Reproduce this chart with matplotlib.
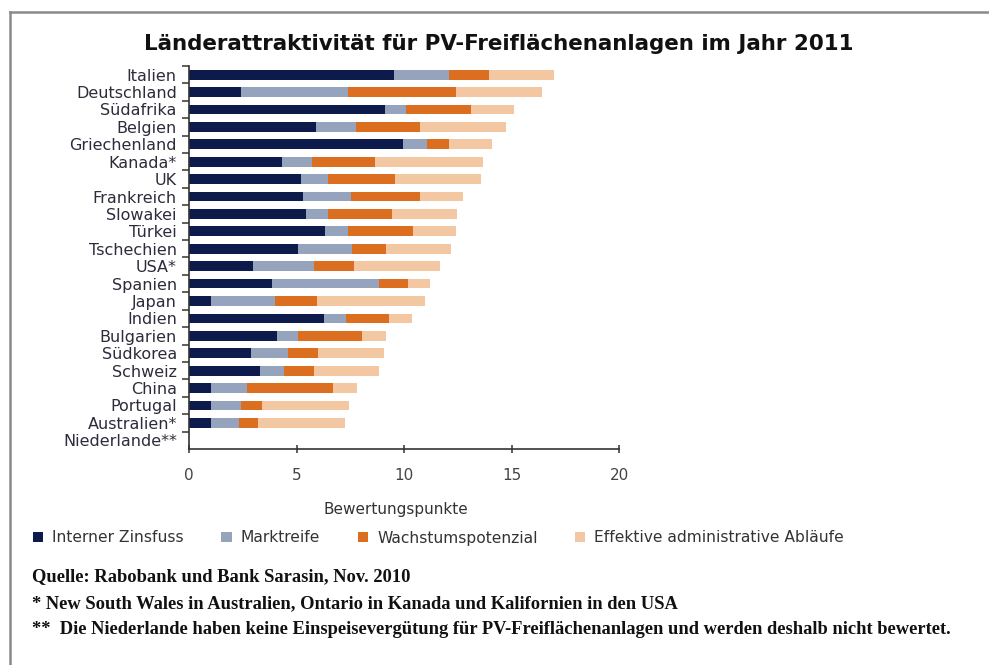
import numpy as np
import matplotlib.pyplot as plt
from matplotlib.lines import Line2D

# Daten (von oben nach unten, wie im Original)
laender = ["Italien", "Deutschland", "Südafrika", "Belgien", "Griechenland",
           "Kanada*", "UK", "Frankreich", "Slowakei", "Türkei", "Tschechien",
           "USA*", "Spanien", "Japan", "Indien", "Bulgarien", "Südkorea",
           "Schweiz", "China", "Portugal", "Australien*", "Niederlande**"]

zinsfuss = [9.5, 2.4, 9.1, 5.9, 9.95, 4.3, 5.2, 5.3, 5.45, 6.3, 5.05,
            2.95, 3.85, 1.0, 6.25, 4.1, 2.85, 3.3, 1.0, 1.0, 1.0, 0]
marktreife = [2.6, 5.0, 1.0, 1.85, 1.1, 1.4, 1.25, 2.2, 1.0, 1.1, 2.5,
              2.85, 4.95, 3.0, 1.05, 0.95, 1.75, 1.1, 1.7, 1.4, 1.3, 0]
wachstum = [1.85, 5.0, 3.0, 3.0, 1.05, 2.95, 3.1, 3.25, 3.0, 3.0, 1.6,
            1.85, 1.35, 1.95, 2.0, 3.0, 1.4, 1.4, 4.0, 1.0, 0.9, 0]
ablaeufe = [3.0, 4.0, 2.0, 4.0, 2.0, 5.0, 4.0, 2.0, 3.0, 2.0, 3.0,
            4.0, 1.05, 5.0, 1.05, 1.1, 3.05, 3.0, 1.1, 4.05, 4.05, 0]

serien = ["Interner Zinsfuss", "Marktreife", "Wachstumspotenzial",
          "Effektive administrative Abläufe"]
farben = ["#0d1b4c", "#96a3bd", "#dc6f1f", "#f4c7a3"]

fig = plt.figure(figsize=(9.89, 6.65), dpi=100)
ax = fig.add_axes([0.1914, 0.3248, 0.4348, 0.576])

y = np.arange(len(laender))
links = np.zeros(len(laender))
handles = []
for werte, name, farbe in zip([zinsfuss, marktreife, wachstum, ablaeufe], serien, farben):
    b = ax.barh(y, werte, left=links, height=0.56, color=farbe, linewidth=0, label=name)
    handles.append(b)
    links += np.array(werte)

ax.set_ylim(len(laender) - 0.5, -0.5)
ax.set_xlim(0, 20)
ax.set_yticks(y)
ax.set_yticklabels(laender, fontsize=11.5, color="#2c2c3a")
ax.set_yticks(np.arange(-0.5, len(laender) - 0.5, 1), minor=True)
ax.tick_params(axis="y", which="major", length=0, pad=9)
ax.tick_params(axis="y", which="minor", length=5, width=1.1, color="#333333")
ax.set_xticks([0, 5, 10, 15, 20])
ax.tick_params(axis="x", direction="inout", length=6, width=1.1, color="#333333",
               labelsize=11, labelcolor="#444444", pad=11)

for s in ["top", "right"]:
    ax.spines[s].set_visible(False)
for s in ["left", "bottom"]:
    ax.spines[s].set_color("#333333")
    ax.spines[s].set_linewidth(1.2)

ax.set_xlabel("Bewertungspunkte", fontsize=11, color="#333333")
ax.xaxis.set_label_coords(0.48, -0.157)
ax.xaxis.label.set_va("center")

fig.text(499 / 989, 1 - 44 / 665, "Länderattraktivität für PV-Freiflächenanlagen im Jahr 2011",
         ha="center", va="center", fontsize=15.4, fontweight="bold", color="#111111")

fig.legend(handles=handles, labels=serien, loc="center left",
           bbox_to_anchor=(33 / 989, 1 - 538 / 665), ncol=4, frameon=False,
           fontsize=11.2, handlelength=0.65, handleheight=0.65, handletextpad=0.6,
           columnspacing=2.4, borderpad=0, borderaxespad=0, labelcolor="#333333")

fuss = ["Quelle: Rabobank und Bank Sarasin, Nov. 2010",
        "* New South Wales in Australien, Ontario in Kanada und Kalifornien in den USA",
        "**  Die Niederlande haben keine Einspeisevergütung für PV-Freiflächenanlagen und werden deshalb nicht bewertet."]
for i, t in enumerate(fuss):
    fig.text(32 / 989, 1 - (577 + 26.5 * i) / 665, t, ha="left", va="center",
             fontsize=13.3, fontweight="bold", family="Liberation Serif", color="#111111")

# Rahmen oben und links
fig.add_artist(Line2D([9.5 / 989, 1], [1 - 11.5 / 665, 1 - 11.5 / 665],
                      transform=fig.transFigure, color="#8a8a8a", lw=1.8))
fig.add_artist(Line2D([9.5 / 989, 9.5 / 989], [1 - 11.5 / 665, 0],
                      transform=fig.transFigure, color="#8a8a8a", lw=1.8))

fig.savefig("out.png", dpi=100)
